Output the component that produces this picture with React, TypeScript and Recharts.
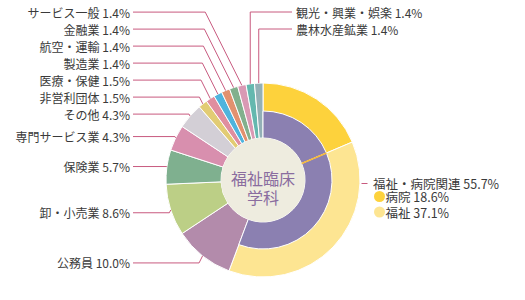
import { PieChart, Pie, Cell } from 'recharts';

// slices, clockwise from 12 o'clock
const slices = [
  '病院', '福祉', '公務員', '卸・小売業', '保険業', '専門サービス業', 'その他',
  '非営利団体', '医療・保健', '製造業', '航空・運輸', '金融業', 'サービス一般',
  '観光・興業・娯楽', '農林水産鉱業',
];
const shares = [18.6, 37.1, 10.0, 8.6, 5.7, 4.3, 4.3, 1.5, 1.5, 1.4, 1.4, 1.4, 1.4, 1.4, 1.4];
const sliceColors = [
  '#fdd23c', '#fde592', '#b38bab', '#bccf86', '#7fb08f', '#d88fae', '#d3cfd6',
  '#e2cc74', '#e08e9f', '#4fb4dd', '#e2916f', '#82b08d', '#d999b4', '#64b8af', '#93b0b6',
];
const groupName = '福祉・病院関連';
const groupMembers = [0, 1];
const centerLines = ['福祉臨床', '学科'];

const PURPLE = '#8b80b1';
const LINE = '#c85a7f';
const TEXT = '#3a3a3a';
const FONT = "'Noto Sans CJK JP', sans-serif";
const RAD = Math.PI / 180;

const outerData = slices.map((name, i) => ({ name, value: shares[i] }));
const groupTotal = groupMembers.reduce((s, i) => s + shares[i], 0);
const allTotal = shares.reduce((s, v) => s + v, 0);
const innerData = [
  ...groupMembers.map((i) => ({ name: slices[i], value: shares[i] })),
  { name: 'rest', value: allTotal - groupTotal },
];

const midAngle = (i: number) => {
  const before = shares.slice(0, i).reduce((s, v) => s + v, 0);
  return 90 - (360 * (before + shares[i] / 2)) / allTotal;
};

// left labels stacked upward, at least 17px apart
const leftStackY = (cy: number) => {
  const ys: Record<number, number> = {};
  let prev = Infinity;
  for (let i = 2; i <= 12; i++) {
    const s = Math.sin(midAngle(i) * RAD);
    const natural = cy - s * (s < 0 ? 106 : 100);
    const y = Math.min(natural, prev - 17);
    ys[i] = y;
    prev = y;
  }
  return ys;
};

const fmt = (i: number) => `${slices[i]} ${shares[i].toFixed(1)}%`;

const renderOuterLabel = (p: any) => {
  const { index, cx, cy, outerRadius, midAngle: mid } = p;
  const ax = cx + Math.cos(-mid * RAD) * outerRadius;
  const ay = cy + Math.sin(-mid * RAD) * outerRadius;

  if (index === 0) {
    const x0 = cx + outerRadius;
    const ly = cy + 3.5;
    const rowY = [ly + 13, ly + 28.5];
    return (
      <g>
        <line x1={x0 + 1.5} x2={x0 + 7.5} y1={ly} y2={ly} stroke={LINE} />
        <text x={x0 + 13} y={ly} fontSize={12.5} fill={TEXT} fontFamily={FONT} dominantBaseline="central">
          {`${groupName} ${groupTotal.toFixed(1)}%`}
        </text>
        {groupMembers.map((m, k) => (
          <g key={m}>
            <circle cx={x0 + 19.5} cy={rowY[k]} r={5.5} fill={sliceColors[m]} />
            <text x={x0 + 25.5} y={rowY[k]} fontSize={12.5} fill={TEXT} fontFamily={FONT} dominantBaseline="central">
              {fmt(m)}
            </text>
          </g>
        ))}
      </g>
    );
  }
  if (index === 1) return null;

  if (index >= 13) {
    const ly = 12 + 17 * (index - 13);
    const ex = cx + 29;
    return (
      <g>
        <polyline points={`${ax},${ay} ${ax},${ly} ${ex},${ly}`} fill="none" stroke={LINE} />
        <text x={ex + 4} y={ly} fontSize={12} fill={TEXT} fontFamily={FONT} dominantBaseline="central">
          {fmt(index)}
        </text>
      </g>
    );
  }

  const ly = leftStackY(cy)[index];
  const ex = ax - 0.5 * Math.abs(ay - ly);
  const lx = cx - 130;
  return (
    <g>
      <polyline points={`${ax},${ay} ${ex},${ly} ${lx},${ly}`} fill="none" stroke={LINE} />
      <text x={lx - 3} y={ly} fontSize={12} fill={TEXT} fontFamily={FONT} textAnchor="end" dominantBaseline="central">
        {fmt(index)}
      </text>
    </g>
  );
};

// orange divider between the two purple halves
const renderInnerLabel = (p: any) => {
  const { index, cx, cy, innerRadius, outerRadius, endAngle } = p;
  if (index !== 0) return null;
  const c = Math.cos(-endAngle * RAD);
  const s = Math.sin(-endAngle * RAD);
  return (
    <line
      x1={cx + c * innerRadius}
      y1={cy + s * innerRadius}
      x2={cx + c * outerRadius}
      y2={cy + s * outerRadius}
      stroke="#f6b93a"
      strokeWidth={1.5}
    />
  );
};

const renderCenterLabel = (p: any) => {
  const { cx, cy } = p;
  return (
    <g fontFamily={FONT} fontSize={16} fill="#8a6d9f" textAnchor="middle">
      <text x={cx} y={cy - 2} dominantBaseline="central">{centerLines[0]}</text>
      <text x={cx} y={cy + 17} dominantBaseline="central">{centerLines[1]}</text>
    </g>
  );
};

export default function App() {
  return (
    <div style={{ position: 'absolute', left: 0, top: 0, width: 525, height: 300, background: '#fff' }}>
      <PieChart width={525} height={300} margin={{ top: 0, right: 0, bottom: 0, left: 0 }}>
        <Pie
          data={outerData}
          dataKey="value"
          cx={263}
          cy={180}
          innerRadius={42}
          outerRadius={97}
          startAngle={90}
          endAngle={-270}
          stroke="#fff"
          strokeWidth={1}
          label={renderOuterLabel}
          labelLine={false}
          isAnimationActive={false}
        >
          {outerData.map((d, i) => (
            <Cell key={d.name} fill={sliceColors[i]} />
          ))}
        </Pie>
        <Pie
          data={innerData}
          dataKey="value"
          cx={263}
          cy={180}
          innerRadius={42}
          outerRadius={69}
          startAngle={90}
          endAngle={-270}
          label={renderInnerLabel}
          labelLine={false}
          isAnimationActive={false}
        >
          {innerData.map((d, i) =>
            i < groupMembers.length ? (
              <Cell key={d.name} fill={PURPLE} stroke="#fff" strokeWidth={1} />
            ) : (
              <Cell key={d.name} fill="none" stroke="none" />
            )
          )}
        </Pie>
        <Pie
          data={[{ name: 'center', value: 1 }]}
          dataKey="value"
          cx={263}
          cy={180}
          innerRadius={0}
          outerRadius={42}
          startAngle={90}
          endAngle={-270}
          fill="#eeecdf"
          stroke="none"
          label={renderCenterLabel}
          labelLine={false}
          isAnimationActive={false}
        />
      </PieChart>
    </div>
  );
}
